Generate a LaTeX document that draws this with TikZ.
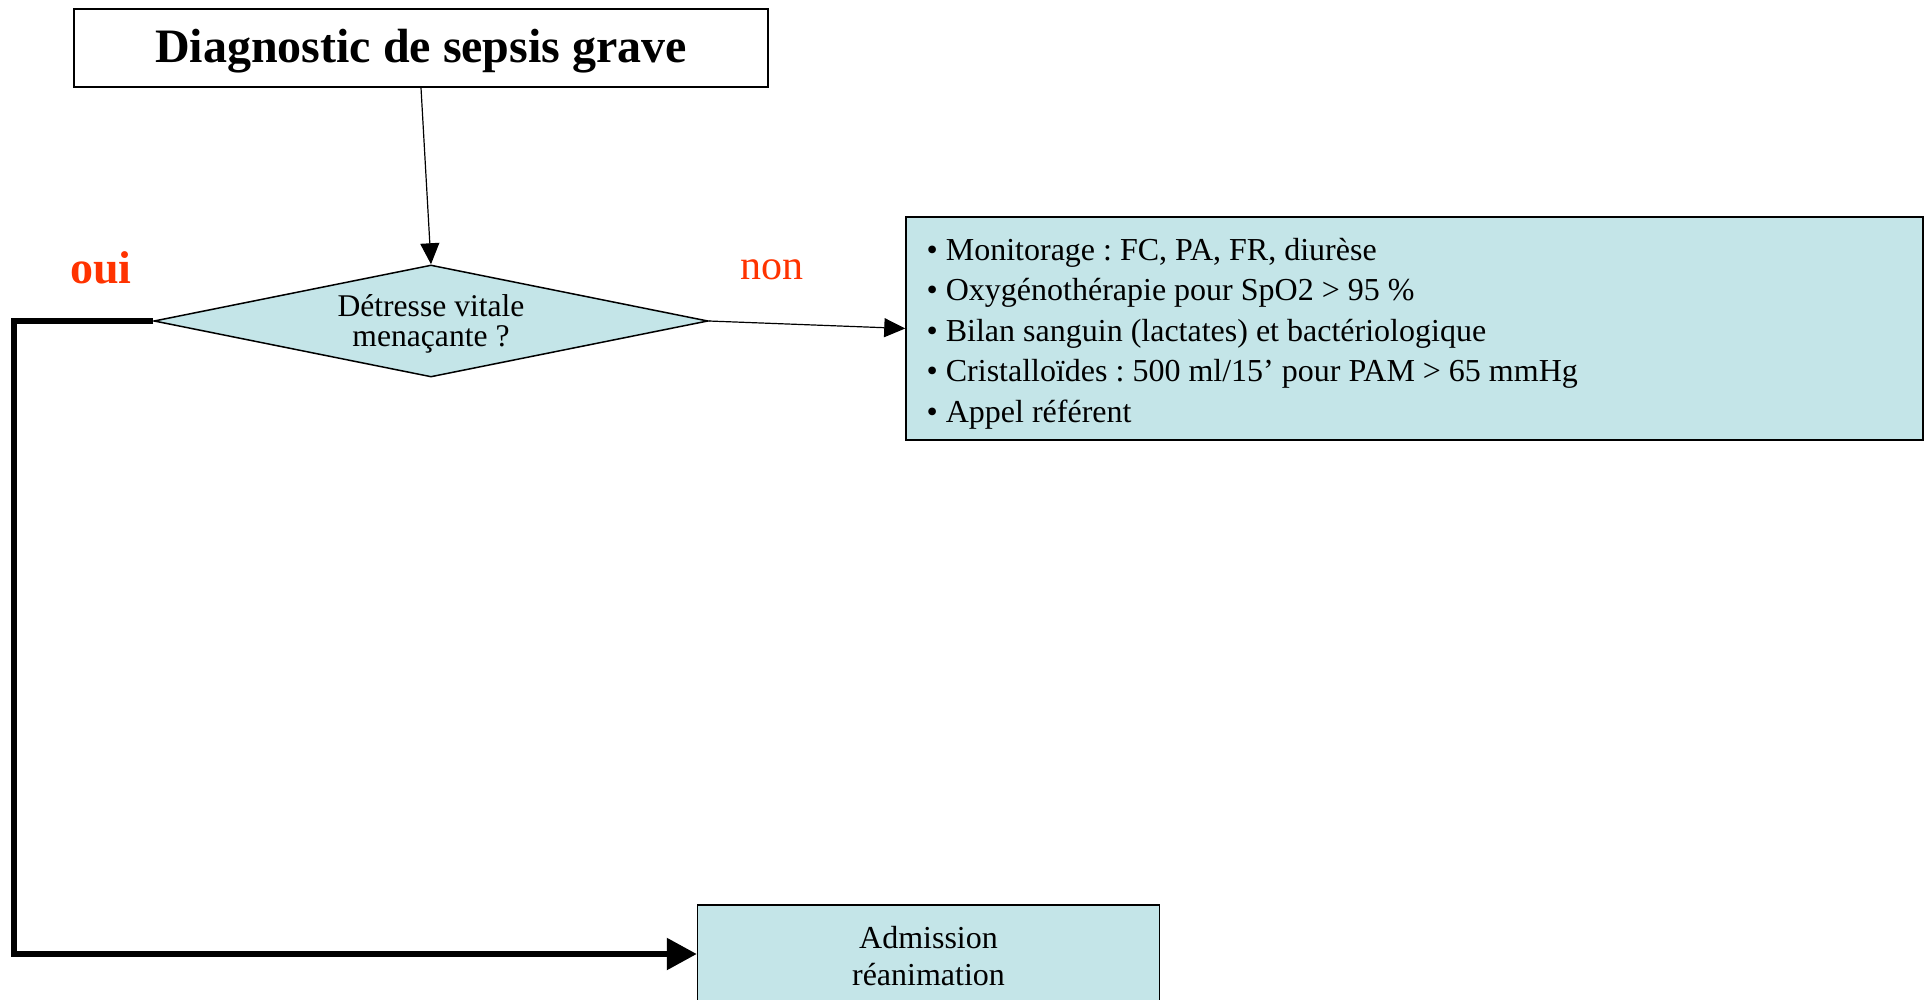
\documentclass[tikz,border=0pt]{standalone}
\usepackage{fontspec}
\setmainfont{Liberation Serif}
\usetikzlibrary{shapes.geometric,arrows.meta}
\definecolor{boxfill}{RGB}{196,229,232}
\definecolor{lblred}{RGB}{255,51,0}
\frenchspacing
\tikzset{
  thinline/.style={line width=0.75pt},
  thinarrow/.style={line width=0.6pt,-{Triangle[length=10.5pt,width=9.5pt]}},
  thickarrow/.style={line width=2.8pt,-{Triangle[length=15pt,width=15.5pt]}},
  titlebox/.style={draw,thinline,fill=white,minimum width=347pt,minimum height=39pt,inner sep=0pt,
    text height=15pt,text depth=0pt,font=\fontsize{24}{28}\selectfont\bfseries},
  decision/.style={draw,thinline,fill=boxfill,diamond,aspect=5,minimum width=277pt,minimum height=56pt,inner sep=0pt,
    align=center,font=\fontsize{15.8}{15}\selectfont},
  listbox/.style={draw,thinline,fill=boxfill,minimum width=508.5pt,minimum height=111.5pt,inner sep=0pt},
  listtext/.style={inner sep=0pt,anchor=west,align=left,font=\fontsize{16}{20.2}\selectfont},
  actbox/.style={draw,thinline,fill=boxfill,minimum width=231pt,minimum height=49pt,inner sep=0pt},
  acttext/.style={inner sep=0pt,align=center,font=\fontsize{16}{18.5}\selectfont},
  ouilbl/.style={text=lblred,font=\fontsize{23}{26}\selectfont\bfseries,inner sep=0pt,anchor=base},
  nonlbl/.style={text=lblred,font=\fontsize{21}{24}\selectfont,inner sep=0pt,anchor=base}
}
\begin{document}
\begin{tikzpicture}[x=0.5pt,y=-0.5pt]
\useasboundingbox (0,0) rectangle (1932,1000);
\clip (0,0) rectangle (1932,1000);
\node[titlebox] (title) at (421,48) {Diagnostic de sepsis grave};
\node[decision] (dia) at (431,321) {};
\node[acttext,font=\fontsize{15.8}{15}\selectfont] (diatxt) at ([yshift=-1.2pt]dia.center) {Détresse vitale\\menaçante ?};
\node[listbox] (list) at (1414.5,328.5) {};
\node[listtext] (listtxt) at ([xshift=10.5pt,yshift=-2.5pt]list.west) {• Monitorage : FC, PA, FR, diurèse\\
• Oxygénothérapie pour SpO2 > 95 \%\\
• Bilan sanguin (lactates) et bactériologique\\
• Cristalloïdes : 500 ml/15’ pour PAM > 65 mmHg\\
• Appel référent};
\node[actbox] (adm) at (928.5,954) {};
\node[acttext] (admtxt) at ([yshift=-1.2pt]adm.center) {Admission\\réanimation};
\node[ouilbl] (oui) at (101,284) {oui};
\node[nonlbl] (non) at (772,279) {non};
\draw[thinarrow] (title.south) -- (dia.north);
\draw[thinarrow] (dia.east) -- (list.west);
\coordinate (bend) at (14,321);
\draw[thickarrow] (dia.west) -- (bend) |- (adm.west);
\end{tikzpicture}
\end{document}
